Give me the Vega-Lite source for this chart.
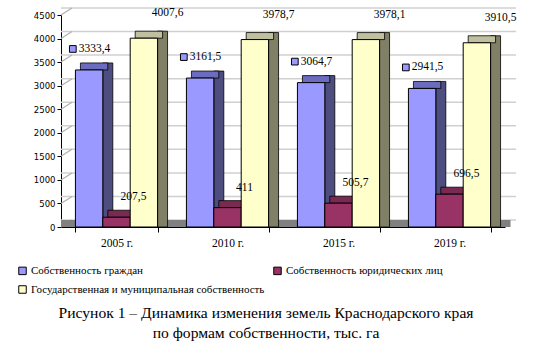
{
  "$schema": "https://vega.github.io/schema/vega-lite/v6.json",
  "width": 444,
  "height": 212,
  "autosize": {"type": "none"},
  "padding": {"left": 61, "top": 15, "right": 32, "bottom": 126},
  "background": "white",
  "datasets": {
    "bars": [
      {"year": "2005 г.", "series": "Собственность граждан", "v": 3333.4, "label": "3333,4"},
      {"year": "2005 г.", "series": "Собственность юридических лиц", "v": 207.5, "label": "207,5"},
      {"year": "2005 г.", "series": "Государственная и муниципальная собственность", "v": 4007.6, "label": "4007,6"},
      {"year": "2010 г.", "series": "Собственность граждан", "v": 3161.5, "label": "3161,5"},
      {"year": "2010 г.", "series": "Собственность юридических лиц", "v": 411, "label": "411"},
      {"year": "2010 г.", "series": "Государственная и муниципальная собственность", "v": 3978.7, "label": "3978,7"},
      {"year": "2015 г.", "series": "Собственность граждан", "v": 3064.7, "label": "3064,7"},
      {"year": "2015 г.", "series": "Собственность юридических лиц", "v": 505.7, "label": "505,7"},
      {"year": "2015 г.", "series": "Государственная и муниципальная собственность", "v": 3978.1, "label": "3978,1"},
      {"year": "2019 г.", "series": "Собственность граждан", "v": 2941.5, "label": "2941,5"},
      {"year": "2019 г.", "series": "Собственность юридических лиц", "v": 696.5, "label": "696,5"},
      {"year": "2019 г.", "series": "Государственная и муниципальная собственность", "v": 3910.5, "label": "3910,5"}
    ],
    "grid": [
      {"g": 0}, {"g": 500}, {"g": 1000}, {"g": 1500}, {"g": 2000},
      {"g": 2500}, {"g": 3000}, {"g": 3500}, {"g": 4000}, {"g": 4500}
    ]
  },
  "title": {
    "text": ["Рисунок 1 – Динамика изменения земель Краснодарского края", "по формам собственности, тыс. га"],
    "orient": "bottom",
    "anchor": "middle",
    "font": "Liberation Serif",
    "fontSize": 15.6,
    "fontWeight": "normal",
    "color": "black",
    "lineHeight": 20,
    "offset": 10,
    "dx": -17
  },
  "layer": [
    {
      "data": {"name": "grid"},
      "mark": {"type": "rule", "color": "#D0D0D0", "strokeWidth": 1.5, "xOffset": 11, "x2Offset": 11, "yOffset": -7},
      "encoding": {
        "y": {"field": "g", "type": "quantitative", "scale": {"domain": [0, 4500], "nice": false}}
      }
    },
    {
      "data": {"name": "grid"},
      "mark": {"type": "rule", "color": "#B0B0B0", "strokeWidth": 1.2, "xOffset": -14.43, "x2Offset": -3.43, "y2Offset": -7},
      "encoding": {
        "x": {"datum": "2005 г.", "type": "nominal", "bandPosition": 0},
        "x2": {"datum": "2005 г.", "bandPosition": 0},
        "y": {"field": "g", "type": "quantitative", "scale": {"domain": [0, 4500], "nice": false}},
        "y2": {"field": "g"}
      }
    },
    {
      "data": {"name": "grid"},
      "transform": [{"filter": "datum.g == 0"}],
      "mark": {"type": "rule", "color": "#808080", "strokeWidth": 7, "yOffset": -3.5, "xOffset": 5.5, "x2Offset": 5.5},
      "encoding": {
        "y": {"field": "g", "type": "quantitative", "scale": {"domain": [0, 4500], "nice": false}}
      }
    },
    {
      "data": {"name": "bars"},
      "mark": {"type": "bar", "yOffset": -7, "y2Offset": -3.5, "stroke": "black", "strokeWidth": 0.8},
      "encoding": {
        "x": {"field": "year", "type": "nominal", "scale": {"paddingInner": 0.26, "paddingOuter": 0.13}},
        "xOffset": {"field": "series", "type": "nominal", "scale": {"domain": ["Собственность граждан", "Собственность юридических лиц", "Государственная и муниципальная собственность"], "range": [27.38, 92.13], "paddingInner": 0.635, "paddingOuter": 0}},
        "y": {"field": "v", "type": "quantitative", "stack": null, "scale": {"domain": [0, 4500], "nice": false}},
        "color": {"field": "series", "type": "nominal", "legend": null, "scale": {"domain": ["Собственность граждан", "Собственность юридических лиц", "Государственная и муниципальная собственность"], "range": ["#4D4D80", "#6B2447", "#808066"]}}
      }
    },
    {
      "data": {"name": "bars"},
      "mark": {"type": "bar", "yOffset": -7, "stroke": "black", "strokeWidth": 0.8},
      "encoding": {
        "x": {"field": "year", "type": "nominal"},
        "xOffset": {"field": "series", "type": "nominal", "scale": {"domain": ["Собственность граждан", "Собственность юридических лиц", "Государственная и муниципальная собственность"], "range": [5, 87.14], "paddingInner": 0, "paddingOuter": 0}},
        "y": {"field": "v", "type": "quantitative", "stack": null, "scale": {"domain": [0, 4500], "nice": false}},
        "y2": {"field": "v"},
        "color": {"field": "series", "type": "nominal", "legend": null, "scale": {"domain": ["Собственность граждан", "Собственность юридических лиц", "Государственная и муниципальная собственность"], "range": ["#6B6BBF", "#7A2A52", "#C0C0A0"]}}
      }
    },
    {
      "data": {"name": "bars"},
      "mark": {"type": "bar", "stroke": "black", "strokeWidth": 1},
      "encoding": {
        "x": {"field": "year", "type": "nominal"},
        "xOffset": {"field": "series", "type": "nominal", "scale": {"domain": ["Собственность граждан", "Собственность юридических лиц", "Государственная и муниципальная собственность"], "range": [0, 82.14], "paddingInner": 0, "paddingOuter": 0}},
        "y": {"field": "v", "type": "quantitative", "stack": null, "scale": {"domain": [0, 4500], "nice": false}},
        "color": {
          "field": "series", "type": "nominal",
          "scale": {"domain": ["Собственность граждан", "Собственность юридических лиц", "Государственная и муниципальная собственность"], "range": ["#9999FF", "#993366", "#FFFFCC"]},
          "legend": {"orient": "none", "legendX": -44, "legendY": 250, "direction": "horizontal", "columns": 2, "gridAlign": "all", "title": null, "symbolType": "square", "symbolSize": 56, "symbolStrokeColor": "black", "symbolStrokeWidth": 1, "symbolOpacity": 1, "labelFont": "Liberation Serif", "labelFontSize": 11, "labelColor": "black", "rowPadding": 6, "columnPadding": 6, "labelOffset": 3, "labelLimit": 400}
        }
      }
    },
    {
      "data": {"name": "bars"},
      "transform": [{"filter": "datum.series == 'Собственность граждан'"}],
      "mark": {"type": "point", "shape": "square", "filled": true, "fill": "#9999FF", "stroke": "black", "strokeWidth": 1, "size": 45, "opacity": 1, "yOffset": -21},
      "encoding": {
        "x": {"field": "year", "type": "nominal"},
        "xOffset": {"field": "series", "type": "nominal", "scale": {"domain": ["Собственность граждан", "Собственность юридических лиц", "Государственная и муниципальная собственность"], "range": [-2.6, 79.54], "paddingInner": 0, "paddingOuter": 0}},
        "y": {"field": "v", "type": "quantitative", "scale": {"domain": [0, 4500], "nice": false}}
      }
    },
    {
      "data": {"name": "bars"},
      "transform": [{"filter": "datum.series == 'Собственность граждан'"}],
      "mark": {"type": "text", "align": "left", "baseline": "middle", "dx": 3.2, "dy": -21, "font": "Liberation Serif", "fontSize": 11.5, "color": "black"},
      "encoding": {
        "x": {"field": "year", "type": "nominal"},
        "xOffset": {"field": "series", "type": "nominal", "scale": {"domain": ["Собственность граждан", "Собственность юридических лиц", "Государственная и муниципальная собственность"], "range": [0, 82.14], "paddingInner": 0, "paddingOuter": 0}},
        "y": {"field": "v", "type": "quantitative", "scale": {"domain": [0, 4500], "nice": false}},
        "text": {"field": "label"}
      }
    },
    {
      "data": {"name": "bars"},
      "transform": [{"filter": "datum.series == 'Собственность юридических лиц'"}],
      "mark": {"type": "text", "align": "center", "baseline": "middle", "dx": 17, "dy": -20, "font": "Liberation Serif", "fontSize": 11.5, "color": "black"},
      "encoding": {
        "x": {"field": "year", "type": "nominal"},
        "xOffset": {"field": "series", "type": "nominal", "scale": {"domain": ["Собственность граждан", "Собственность юридических лиц", "Государственная и муниципальная собственность"], "range": [0, 82.14], "paddingInner": 0, "paddingOuter": 0}},
        "y": {"field": "v", "type": "quantitative", "scale": {"domain": [0, 4500], "nice": false}},
        "text": {"field": "label"}
      }
    },
    {
      "data": {"name": "bars"},
      "transform": [{"filter": "datum.series == 'Государственная и муниципальная собственность'"}],
      "mark": {"type": "text", "align": "center", "baseline": "middle", "dx": 10, "dy": -25, "font": "Liberation Serif", "fontSize": 11.5, "color": "black"},
      "encoding": {
        "x": {"field": "year", "type": "nominal"},
        "xOffset": {"field": "series", "type": "nominal", "scale": {"domain": ["Собственность граждан", "Собственность юридических лиц", "Государственная и муниципальная собственность"], "range": [0, 82.14], "paddingInner": 0, "paddingOuter": 0}},
        "y": {"field": "v", "type": "quantitative", "scale": {"domain": [0, 4500], "nice": false}},
        "text": {"field": "label"}
      }
    }
  ],
  "resolve": {"scale": {"xOffset": "independent", "color": "independent"}},
  "config": {
    "view": {"stroke": null},
    "axisX": {"title": null, "labelFont": "Liberation Serif", "labelFontSize": 11.5, "labelColor": "black", "domainColor": "black", "tickColor": "black", "tickSize": 5, "tickBand": "extent", "labelAngle": 0, "grid": false, "labelPadding": 5},
    "axisY": {"title": null, "grid": false, "labelFont": "DejaVu Sans", "labelFontSize": 8.5, "labelColor": "black", "domainColor": "black", "tickColor": "black", "tickSize": 4, "tickCount": 9, "labelPadding": 2, "format": "d"}
  }
}
